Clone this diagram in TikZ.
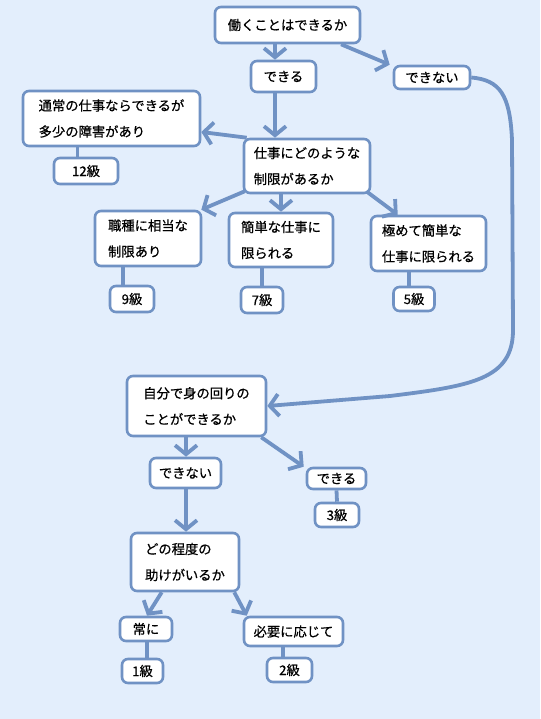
\documentclass[tikz,border=0pt]{standalone}
\usepackage{fontspec}
\setmainfont{Noto Sans CJK JP}[FakeBold=0.6]
\usetikzlibrary{arrows.meta}
\definecolor{bg}{RGB}{227,238,252}
\definecolor{ln}{RGB}{112,146,196}
\tikzset{
  box/.style={draw=ln, line width=2.6pt, fill=white, rounded corners=6pt,
    align=left, inner sep=0pt, font=\fontsize{13.3}{26}\selectfont},
  conn/.style={draw=ln, line width=3.8pt},
  arr/.style={conn, -{Straight Barb[length=9pt,width=22pt]}},
}
\begin{document}
\begin{tikzpicture}[x=1pt,y=-1pt]
\fill[bg] (0,0) rectangle (540,719);
\useasboundingbox (0,0) rectangle (540,719);
\node[box, minimum width=145pt, minimum height=36pt] (n1) at (287.5,25) {働くことはできるか};
\node[box, minimum width=65pt, minimum height=31pt] (n2) at (283.5,76.5) {できる};
\node[box, minimum width=76pt, minimum height=23pt] (n3) at (432,77.5) {できない};
\node[box, minimum width=177pt, minimum height=55pt] (n4) at (111.5,118.5) {通常の仕事ならできるが\\多少の障害があり};
\node[box, minimum width=64pt, minimum height=26pt] (n5) at (86,171) {12級};
\node[box, minimum width=126pt, minimum height=54pt] (n6) at (307,166) {仕事にどのような\\制限があるか};
\node[box, minimum width=106pt, minimum height=55pt] (n7) at (148,238.5) {職種に相当な\\制限あり};
\node[box, minimum width=104pt, minimum height=54pt] (n8) at (281,240) {簡単な仕事に\\限られる};
\node[box, minimum width=115pt, minimum height=55pt] (n9) at (428.5,243.5) {極めて簡単な\\仕事に限られる};
\node[box, minimum width=44pt, minimum height=26pt] (n10) at (132,299) {9級};
\node[box, minimum width=42pt, minimum height=26pt] (n11) at (262,300) {7級};
\node[box, minimum width=41pt, minimum height=24pt] (n12) at (414,299) {5級};
\node[box, minimum width=139pt, minimum height=60pt] (n13) at (196.5,406) {自分で身の回りの\\ことができるか};
\node[box, minimum width=71pt, minimum height=30pt] (n14) at (185.5,473) {できない};
\node[box, minimum width=59pt, minimum height=21pt] (n15) at (336.5,478.5) {できる};
\node[box, minimum width=44pt, minimum height=24pt] (n16) at (337,515) {3級};
\node[box, minimum width=108pt, minimum height=58pt] (n17) at (185,562) {どの程度の\\助けがいるか};
\node[box, minimum width=52pt, minimum height=24pt] (n18) at (146,629) {常に};
\node[box, minimum width=99pt, minimum height=29pt] (n19) at (293.5,631.5) {必要に応じて};
\node[box, minimum width=41pt, minimum height=24pt] (n20) at (142.5,671) {1級};
\node[box, minimum width=45pt, minimum height=24pt] (n21) at (289.5,670) {2級};

\draw[arr] ([xshift=-12.5pt]n1.south) -- ([xshift=-8.5pt]n2.north);
\draw[arr] ([xshift=53.5pt]n1.south) -- ([xshift=-3pt]n3.north west);
\draw[arr] ([xshift=-8.5pt]n2.south) -- ([xshift=-32pt]n6.north);
\draw[arr] ([xshift=4pt]n6.north west) -- ([yshift=-13.5pt]n4.east);
\draw[conn] ([xshift=-34pt]n4.south) -- ([xshift=-8.5pt]n5.north);
\draw[arr] ([xshift=2pt,yshift=3pt]n6.south west) -- ([xshift=-1pt]n7.north east);
\draw[arr] (n6.south -| n8.north) -- (n8.north);
\draw[arr] ([xshift=-5pt,yshift=3pt]n6.south east) -- ([xshift=28pt]n9.north west);
\draw[conn] ([xshift=-25pt]n7.south) -- ([xshift=-9pt]n10.north);
\draw[conn] ([xshift=-19pt]n8.south) -- (n11.north);
\draw[conn] ([xshift=-19.5pt]n9.south) -- ([xshift=-5pt]n12.north);
\draw[arr] (n3.east) .. controls (500,80) and (510,95) .. (512,140) -- (513,330)
   .. controls (513,380) and (470,386) .. (390,396) -- (n13.east);
\draw[arr] ([xshift=-10.5pt]n13.south) -- ([xshift=0.5pt]n14.north);
\draw[arr] ([xshift=-6pt]n13.south east) -- ([xshift=-2pt]n15.north west);
\draw[conn] (n15.south) -- (n16.north);
\draw[arr] ([xshift=0.5pt]n14.south) -- ([xshift=1pt]n17.north);
\draw[arr] ([xshift=32pt]n17.south west) -- ([xshift=1pt]n18.north);
\draw[arr] ([xshift=-6pt]n17.south east) -- ([xshift=4pt]n19.north west);
\draw[conn] ([xshift=1pt]n18.south) -- ([xshift=4.5pt]n20.north);
\draw[conn] ([xshift=-10.5pt]n19.south) -- ([xshift=-6.5pt]n21.north);
\end{tikzpicture}
\end{document}
